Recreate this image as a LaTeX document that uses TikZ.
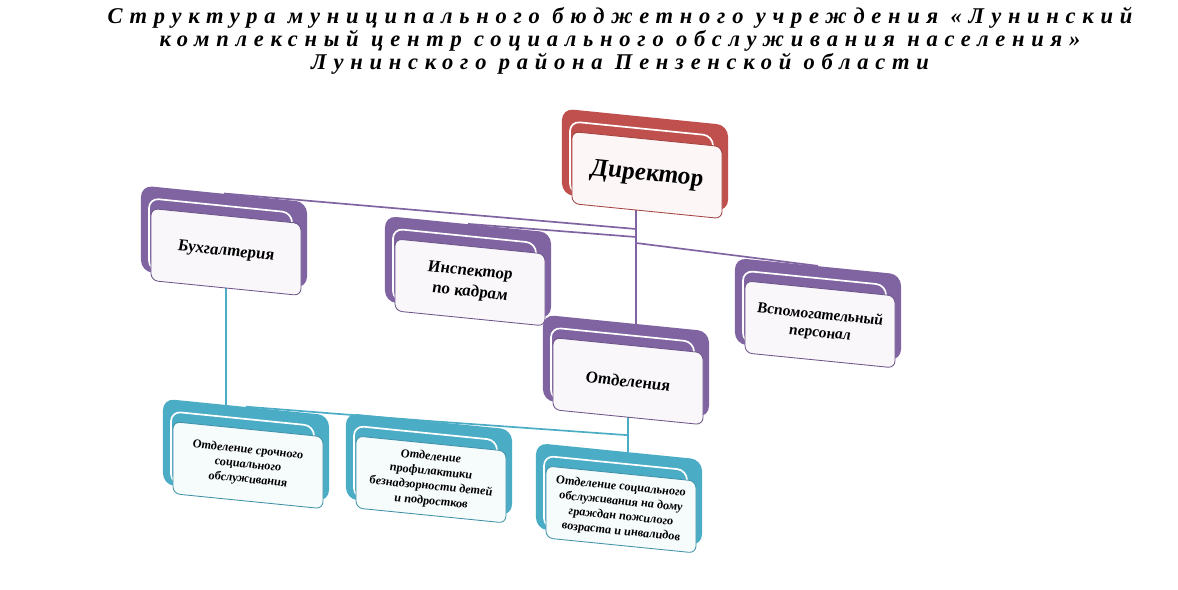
\documentclass[tikz,border=0pt]{standalone}
\usepackage{fontspec}
\setmainfont{Liberation Serif}
\newfontfamily\titlefont[LetterSpace=30]{Liberation Serif}
\usetikzlibrary{backgrounds}
\definecolor{dirred}{HTML}{C0504D}
\definecolor{orgviolet}{HTML}{8064A2}
\definecolor{orgteal}{HTML}{4BACC6}
\tikzset{
  backpanel/.style={fill=#1, rounded corners=8pt, minimum width=4.15cm, minimum height=2.15cm, inner sep=0pt},
  midpanel/.style={fill=#1, draw=white, line width=1.2pt, rounded corners=7pt, minimum width=3.575cm, minimum height=1.8cm, inner sep=0pt},
  frontpanel/.style={draw=#1!85!black, fill=#1!5, line width=0.6pt, rounded corners=5pt, minimum width=3.75cm, minimum height=1.8cm, align=center, inner sep=1pt},
  biglabel/.style={font=\bfseries\itshape\fontsize{18}{20}\selectfont},
  midlabel/.style={font=\bfseries\itshape\fontsize{12}{15}\selectfont},
  smalllabel/.style={font=\bfseries\itshape\fontsize{8.7}{10.6}\selectfont},
  orgline/.style={draw=#1, line width=1.2pt},
}
\begin{document}
\begin{tikzpicture}[x=0.025cm, y=-0.025cm]
\useasboundingbox (0,0) rectangle (1178,590);
\node[font=\titlefont\bfseries\itshape\fontsize{16}{16.4}\selectfont, align=center] (title) at (620,41)
  {Структура муниципального бюджетного учреждения «Лунинский\\
   комплексный центр социального обслуживания населения»\\
   Лунинского района Пензенской области};
\begin{scope}[shift={(636,0)}, yslant=-0.1, transform shape]
% director
\node[backpanel=dirred] (dir-back) at (9,159) {};
\node[midpanel=dirred] (dir-mid) at (5.5,164) {};
\node[frontpanel=dirred, biglabel] (dir) at (11,174) {Директор};
% second row
\node[backpanel=orgviolet] (buh-back) at (-412,278) {};
\node[midpanel=orgviolet] (buh-mid) at (-415.5,283) {};
\node[frontpanel=orgviolet, midlabel] (buh) at (-410,293) {Бухгалтерия};
\node[backpanel=orgviolet] (insp-back) at (-168,284) {};
\node[midpanel=orgviolet] (insp-mid) at (-171.5,289) {};
\node[frontpanel=orgviolet, midlabel] (insp) at (-166,299) {Инспектор\\по кадрам};
\node[backpanel=orgviolet] (vsp-back) at (182,291) {};
\node[midpanel=orgviolet] (vsp-mid) at (178.5,296) {};
\node[frontpanel=orgviolet, font=\bfseries\itshape\fontsize{11}{13}\selectfont] (vsp) at (184,306) {Вспомогательный\\персонал};
\node[backpanel=orgviolet] (otd-back) at (-10,367) {};
\node[midpanel=orgviolet] (otd-mid) at (-13.5,372) {};
\node[frontpanel=orgviolet, midlabel] (otd) at (-8,382) {Отделения};
% departments
\node[backpanel=orgteal] (b1-back) at (-390,489) {};
\node[midpanel=orgteal] (b1-mid) at (-393.5,494) {};
\node[frontpanel=orgteal, smalllabel] (b1) at (-388,504) {Отделение срочного\\социального\\обслуживания};
\node[backpanel=orgteal] (b2-back) at (-207,485) {};
\node[midpanel=orgteal] (b2-mid) at (-210.5,490) {};
\node[frontpanel=orgteal, smalllabel] (b2) at (-205,500) {Отделение\\профилактики\\безнадзорности детей\\и подростков};
\node[backpanel=orgteal] (b3-back) at (-17,496) {};
\node[midpanel=orgteal] (b3-mid) at (-20.5,501) {};
\node[frontpanel=orgteal, smalllabel] (b3) at (-15,511) {Отделение социального\\обслуживания на дому\\граждан пожилого\\возраста и инвалидов};
% connectors
\coordinate (hub-buh) at (0,229);
\coordinate (hub-insp) at (0,237);
\coordinate (hub-vsp) at (0,243);
\coordinate (hub-low) at (-8,436);
\begin{pgfonlayer}{background}
\draw[orgline=orgviolet] (dir.center -| hub-buh) -- (hub-buh |- otd-back.north);
\draw[orgline=orgviolet] (hub-buh) -- (buh-back.north);
\draw[orgline=orgviolet] (hub-insp) -- (insp-back.north);
\draw[orgline=orgviolet] (hub-vsp) -- (vsp-back.north);
\draw[orgline=orgteal] (buh.center) -- (buh.center |- b1-back.north);
\draw[orgline=orgteal] (otd.center) -- (otd.center |- b3-back.north);
\draw[orgline=orgteal] (hub-low) -- (b2-back.north) -- (b1-back.north);
\end{pgfonlayer}
\end{scope}
\end{tikzpicture}
\end{document}
